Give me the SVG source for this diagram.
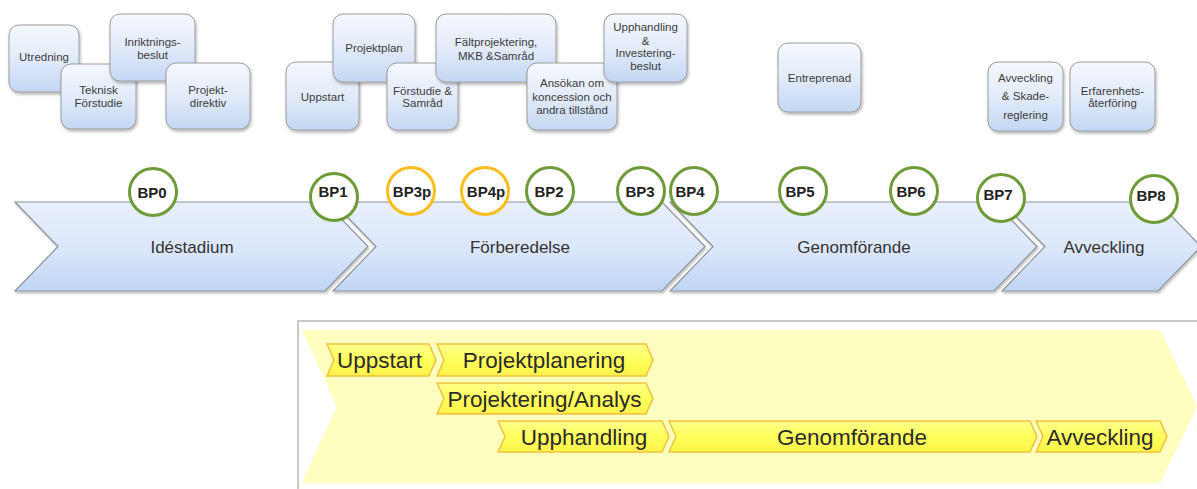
<svg xmlns="http://www.w3.org/2000/svg" width="1197" height="489" viewBox="0 0 1197 489">
  <defs>
    <linearGradient id="boxFill" x1="0" y1="0" x2="0" y2="1">
      <stop offset="0" stop-color="#f5f8fd"/>
      <stop offset="0.5" stop-color="#e2ebfa"/>
      <stop offset="1" stop-color="#c4d7f4"/>
    </linearGradient>
    <linearGradient id="phaseFill" x1="0" y1="0" x2="0" y2="1">
      <stop offset="0" stop-color="#e9f0fc"/>
      <stop offset="0.55" stop-color="#dae6fa"/>
      <stop offset="1" stop-color="#bfd4f4"/>
    </linearGradient>
    <linearGradient id="stepFill" x1="0" y1="0" x2="0" y2="1">
      <stop offset="0" stop-color="#ffff8c"/>
      <stop offset="0.5" stop-color="#ffff5c"/>
      <stop offset="1" stop-color="#fff24a"/>
    </linearGradient>
    <filter id="shadow" x="-10%" y="-10%" width="130%" height="140%">
      <feDropShadow dx="1" dy="2" stdDeviation="1.5" flood-color="#000" flood-opacity="0.3"/>
    </filter>
    <filter id="phaseShadow" x="-5%" y="-10%" width="110%" height="130%">
      <feDropShadow dx="1" dy="2" stdDeviation="1.2" flood-color="#000" flood-opacity="0.25"/>
    </filter>
    <style>
      .box { fill: url(#boxFill); stroke: #9c9c9c; stroke-width: 1; filter: url(#shadow); }
      .btxt { font-family: "Liberation Sans", Arial, sans-serif; font-size: 11.5px; fill: #3c3c3c; text-anchor: middle; }
      .phase { fill: url(#phaseFill); stroke: #8e939b; stroke-width: 1.2; filter: url(#phaseShadow); }
      .ptxt { font-family: "Liberation Sans", Arial, sans-serif; font-size: 17px; fill: #333; text-anchor: middle; }
      .bp { fill: #fff; stroke: #6e9b38; stroke-width: 3; }
      .bp.pre { stroke: #fbbd1c; }
      .bptxt { font-family: "Liberation Sans", Arial, sans-serif; font-size: 15px; font-weight: bold; fill: #222; text-anchor: middle; }
      .step { fill: url(#stepFill); stroke: #f1c23e; stroke-width: 1.5; }
      .stxt { font-family: "Liberation Sans", Arial, sans-serif; font-size: 22.5px; fill: #2b2b2b; text-anchor: middle; }
    </style>
  </defs>

  <rect width="1197" height="489" fill="#fff"/>

  <!-- activity boxes, upper row -->
  <g id="box-utredning">
    <rect class="box" x="9" y="25" width="70" height="67" rx="10"/>
    <text class="btxt" x="44" y="61">Utredning</text>
  </g>
  <g id="box-teknisk-forstudie">
    <rect class="box" x="61" y="64" width="75" height="65" rx="10"/>
    <text class="btxt" x="98.5" y="94">Teknisk</text>
    <text class="btxt" x="98.5" y="107">Förstudie</text>
  </g>
  <g id="box-inriktningsbeslut">
    <rect class="box" x="110" y="14" width="85" height="67" rx="10"/>
    <text class="btxt" x="152.5" y="46">Inriktnings-</text>
    <text class="btxt" x="152.5" y="59">beslut</text>
  </g>
  <g id="box-projektdirektiv">
    <rect class="box" x="166" y="63" width="84" height="66" rx="10"/>
    <text class="btxt" x="208" y="94">Projekt-</text>
    <text class="btxt" x="208" y="107">direktiv</text>
  </g>

  <g id="box-uppstart">
    <rect class="box" x="286" y="62" width="73" height="68" rx="10"/>
    <text class="btxt" x="322.5" y="101">Uppstart</text>
  </g>
  <g id="box-projektplan">
    <rect class="box" x="333" y="14" width="82" height="68" rx="10"/>
    <text class="btxt" x="374" y="52">Projektplan</text>
  </g>
  <g id="box-forstudie-samrad">
    <rect class="box" x="387" y="63" width="71" height="67" rx="10"/>
    <text class="btxt" x="422.5" y="95">Förstudie &amp;</text>
    <text class="btxt" x="422.5" y="107">Samråd</text>
  </g>
  <g id="box-faltprojektering">
    <rect class="box" x="436" y="14" width="120" height="68" rx="10"/>
    <text class="btxt" x="496" y="46">Fältprojektering,</text>
    <text class="btxt" x="496" y="60">MKB &amp;Samråd</text>
  </g>
  <g id="box-ansokan">
    <rect class="box" x="527" y="63" width="90" height="67" rx="10"/>
    <text class="btxt" x="572" y="87">Ansökan om</text>
    <text class="btxt" x="572" y="101">koncession och</text>
    <text class="btxt" x="572" y="114">andra tillstånd</text>
  </g>
  <g id="box-upphandling-investering">
    <rect class="box" x="604" y="14" width="83" height="68" rx="10"/>
    <text class="btxt" x="645.5" y="31">Upphandling</text>
    <text class="btxt" x="645.5" y="45">&amp;</text>
    <text class="btxt" x="645.5" y="57">Investering-</text>
    <text class="btxt" x="645.5" y="70">beslut</text>
  </g>

  <g id="box-entreprenad">
    <rect class="box" x="778" y="43" width="83" height="69" rx="10"/>
    <text class="btxt" x="819.5" y="82">Entreprenad</text>
  </g>
  <g id="box-avveckling-skadereglering">
    <rect class="box" x="988" y="62" width="75" height="69" rx="10"/>
    <text class="btxt" x="1025.5" y="82">Avveckling</text>
    <text class="btxt" x="1025.5" y="100">&amp; Skade-</text>
    <text class="btxt" x="1025.5" y="119">reglering</text>
  </g>
  <g id="box-erfarenhetsaterforing">
    <rect class="box" x="1070" y="62" width="85" height="69" rx="10"/>
    <text class="btxt" x="1112.5" y="95">Erfarenhets-</text>
    <text class="btxt" x="1112.5" y="107">återföring</text>
  </g>

  <!-- phase arrows -->
  <g id="phase-idestadium">
    <path class="phase" d="M15,202 L325,202 L368,246.5 L325,291 L15,291 L58,246.5 Z"/>
    <text class="ptxt" x="192" y="253">Idéstadium</text>
  </g>
  <g id="phase-forberedelse">
    <path class="phase" d="M333,202 L662,202 L705,246.5 L662,291 L333,291 L376,246.5 Z"/>
    <text class="ptxt" x="520" y="253">Förberedelse</text>
  </g>
  <g id="phase-genomforande">
    <path class="phase" d="M670,202 L994,202 L1037,246.5 L994,291 L670,291 L713,246.5 Z"/>
    <text class="ptxt" x="854" y="253">Genomförande</text>
  </g>
  <g id="phase-avveckling">
    <path class="phase" d="M1002,202 L1158,202 L1201,246.5 L1158,291 L1002,291 L1045,246.5 Z"/>
    <text class="ptxt" x="1104" y="253">Avveckling</text>
  </g>

  <!-- decision points -->
  <g id="bp0"><circle class="bp" cx="153" cy="192" r="23.5"/><text class="bptxt" x="152" y="198">BP0</text></g>
  <g id="bp1"><circle class="bp" cx="334" cy="197" r="23.5"/><text class="bptxt" x="333" y="197">BP1</text></g>
  <g id="bp3p"><circle class="bp pre" cx="411" cy="191" r="23.5"/><text class="bptxt" x="412" y="197">BP3p</text></g>
  <g id="bp4p"><circle class="bp pre" cx="485" cy="191" r="23.5"/><text class="bptxt" x="486" y="197">BP4p</text></g>
  <g id="bp2"><circle class="bp" cx="550" cy="191" r="23.5"/><text class="bptxt" x="549" y="197">BP2</text></g>
  <g id="bp3"><circle class="bp" cx="641" cy="191" r="23.5"/><text class="bptxt" x="640" y="197">BP3</text></g>
  <g id="bp4"><circle class="bp" cx="694" cy="191" r="23.5"/><text class="bptxt" x="690" y="197">BP4</text></g>
  <g id="bp5"><circle class="bp" cx="803" cy="191" r="23.5"/><text class="bptxt" x="800" y="197">BP5</text></g>
  <g id="bp6"><circle class="bp" cx="914" cy="191" r="23.5"/><text class="bptxt" x="911" y="197">BP6</text></g>
  <g id="bp7"><circle class="bp" cx="1001" cy="198" r="23.5"/><text class="bptxt" x="998" y="200">BP7</text></g>
  <g id="bp8"><circle class="bp" cx="1154" cy="199" r="23.5"/><text class="bptxt" x="1151" y="201">BP8</text></g>

  <!-- project stages panel -->
  <g id="stage-panel">
    <rect x="298" y="321" width="920" height="200" fill="#fff" stroke="#c9c9c9" stroke-width="2"/>
    <path d="M302,330 L1160,330 L1197,406.5 L1160,483 L302,483 L337,406.5 Z" fill="#ffffbf"/>
  </g>

  <g id="step-uppstart">
    <path class="step" d="M327,344 L429,344 L436,360 L429,376 L327,376 L334,360 Z"/>
    <text class="stxt" x="379.5" y="368">Uppstart</text>
  </g>
  <g id="step-projektplanering">
    <path class="step" d="M437,344 L646,344 L653,360 L646,376 L437,376 L444,360 Z"/>
    <text class="stxt" x="544" y="368">Projektplanering</text>
  </g>
  <g id="step-projektering-analys">
    <path class="step" d="M437,383 L646,383 L653,398.5 L646,414 L437,414 L444,398.5 Z"/>
    <text class="stxt" x="544.5" y="406.5">Projektering/Analys</text>
  </g>
  <g id="step-upphandling">
    <path class="step" d="M498,421 L662,421 L669,436.5 L662,452 L498,452 L505,436.5 Z"/>
    <text class="stxt" x="584" y="444.5">Upphandling</text>
  </g>
  <g id="step-genomforande">
    <path class="step" d="M669,421 L1030,421 L1037,436.5 L1030,452 L669,452 L676,436.5 Z"/>
    <text class="stxt" x="852" y="444.5">Genomförande</text>
  </g>
  <g id="step-avveckling">
    <path class="step" d="M1036,421 L1160,421 L1167,436.5 L1160,452 L1036,452 L1043,436.5 Z"/>
    <text class="stxt" x="1100" y="444.5">Avveckling</text>
  </g>
</svg>
